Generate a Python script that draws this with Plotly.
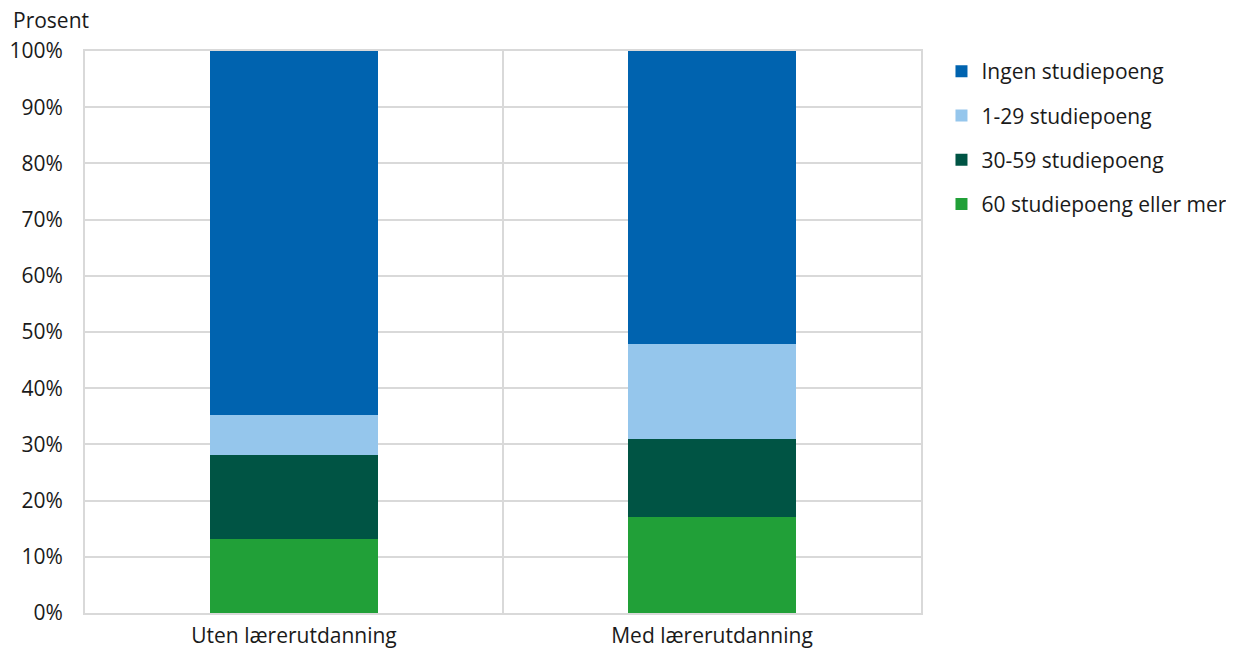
import plotly.graph_objects as go

categories = ["Uten lærerutdanning", "Med lærerutdanning"]
series_names = ["60 studiepoeng eller mer", "30-59 studiepoeng", "1-29 studiepoeng", "Ingen studiepoeng"]
v60 = [13.1, 17.0]
v30 = [15.1, 13.9]
v1 = [7.1, 17.0]
v0 = [64.7, 52.1]
colors = ["#21A038", "#005444", "#95C6EC", "#0063AF"]
y_ticks = [0, 10, 20, 30, 40, 50, 60, 70, 80, 90, 100]
y_ticklabels = [f"{t}%" for t in y_ticks]

fig = go.Figure()
for i, (name, vals) in enumerate(zip(series_names, [v60, v30, v1, v0])):
    fig.add_trace(go.Bar(
        x=categories, y=vals, name=name, marker_color=colors[i],
        marker_line_width=0, legendgroup=str(i), legendrank=10 - i, width=0.4,
    ))

W, H = 1226, 640
FS = 21
fig.update_layout(
    barmode="stack",
    width=W, height=H,
    margin=dict(l=77, r=313, t=43, b=35, autoexpand=False),
    plot_bgcolor="white", paper_bgcolor="white",
    font=dict(family="Open Sans", size=FS, color="#1a1a1a"),
    showlegend=True,
    legend=dict(
        x=1.0245, y=1.0, xanchor="left", yanchor="top",
        traceorder="grouped", tracegroupgap=14,
        font=dict(size=FS), itemwidth=30,
    ),
    xaxis=dict(
        showgrid=False, showline=True, linecolor="#d9d9d9", linewidth=2,
        mirror=True, ticks="", tickfont=dict(size=FS), ticklabelstandoff=3,
        range=[-0.5, 1.5],
    ),
    yaxis=dict(
        range=[0, 100], tickvals=y_ticks, ticktext=y_ticklabels,
        showgrid=True, gridcolor="#d9d9d9", gridwidth=2,
        showline=True, linecolor="#d9d9d9", linewidth=2, mirror=True,
        zeroline=False, ticks="", tickfont=dict(size=FS), ticklabelstandoff=16,
    ),
    shapes=[dict(type="line", xref="x", yref="paper", x0=0.5, x1=0.5, y0=0, y1=1,
                 line=dict(color="#d9d9d9", width=2), layer="below")],
    annotations=[dict(text="Prosent", xref="paper", yref="paper",
                      x=-74 / 836, y=1 + 15 / 562,
                      xanchor="left", yanchor="bottom", showarrow=False,
                      font=dict(size=FS))],
)

fig.write_html("out.html")
